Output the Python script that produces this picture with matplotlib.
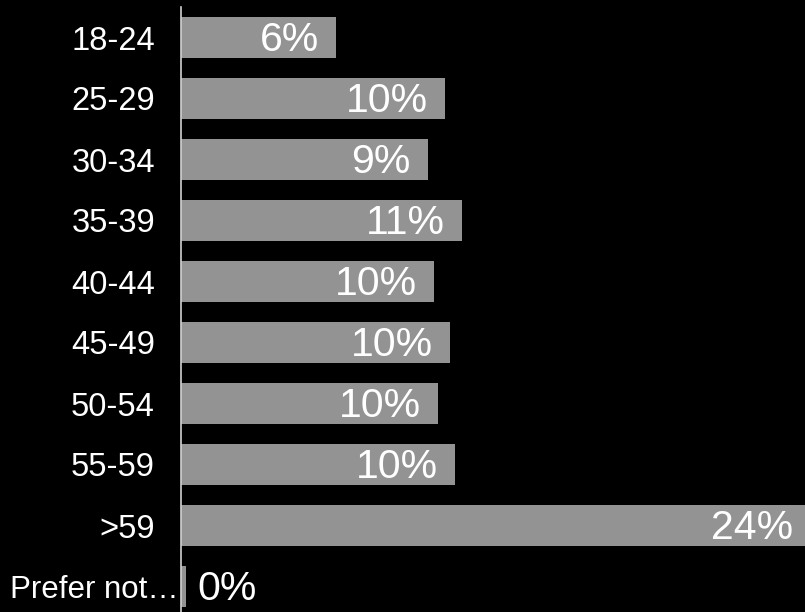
import matplotlib.pyplot as plt
import matplotlib.transforms as mtransforms

plt.rcParams['font.family'] = ['Liberation Sans', 'DejaVu Sans']

# age groups and their share of respondents (%)
categories = ['18-24', '25-29', '30-34', '35-39', '40-44',
              '45-49', '50-54', '55-59', '>59', 'Prefer not…']
values = [5.96, 10.15, 9.49, 10.8, 9.73, 10.35, 9.9, 10.54, 24.2, 0.19]
value_labels = ['6%', '10%', '9%', '11%', '10%', '10%', '10%', '10%', '24%', '0%']

fig = plt.figure(figsize=(8.05, 6.12), dpi=100)
fig.patch.set_facecolor('black')

# axes spans from the y axis line (x=181px) to the right figure edge
ax = fig.add_axes([181 / 805, -5 / 612, 1 - 181 / 805, 610 / 612])
ax.set_facecolor('black')

ypos = list(range(len(categories)))
ax.barh(ypos, values, height=0.68, color='#939393', zorder=2)

ax.set_xlim(0, 624 / 26)
ax.set_ylim(len(categories) - 0.5, -0.5)

for y, v, lab in zip(ypos, values, value_labels):
    if v > 2:
        ax.annotate(lab, (v, y), xytext=(-17 * 0.72, -2.5 * 0.72), textcoords='offset points',
                    ha='right', va='center', color='white', fontsize=29.5, zorder=3,
                    annotation_clip=False)
    else:
        ax.annotate(lab, (v, y), xytext=(11 * 0.72, -2.5 * 0.72), textcoords='offset points',
                    ha='left', va='center', color='white', fontsize=29.5, zorder=3,
                    annotation_clip=False)

ax.set_yticks(ypos)
ax.set_yticklabels(categories, color='white', fontsize=23.5)
ax.tick_params(axis='y', length=0, pad=26 * 0.72)
ax.set_xticks([])

# the truncated long label sits closer to the axis line
last = ax.get_yticklabels()[-1]
last.set_fontsize(22.5)
last.set_transform(last.get_transform() +
                   mtransforms.ScaledTranslation(24 / 100, 0, fig.dpi_scale_trans))

for side in ['top', 'right', 'bottom']:
    ax.spines[side].set_visible(False)
ax.spines['left'].set_color('#d0d0d0')
ax.spines['left'].set_linewidth(1.2)
ax.spines['left'].set_zorder(4)

plt.savefig('out.png', dpi=100, facecolor='black')
